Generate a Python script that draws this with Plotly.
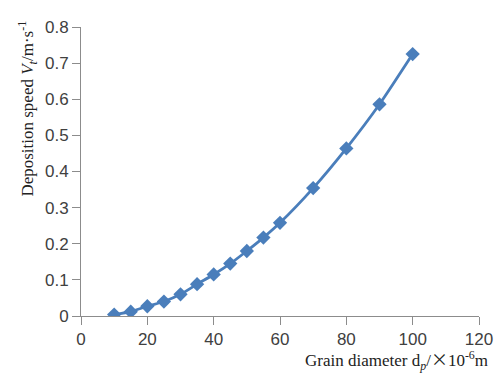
import plotly.graph_objects as go

diameter = [10, 15, 20, 25, 30, 35, 40, 45, 50, 55, 60, 70, 80, 90, 100]
speed = [0.004, 0.012, 0.027, 0.040, 0.060, 0.088, 0.115, 0.145, 0.180, 0.217, 0.258, 0.354, 0.464, 0.586, 0.725]

x_ticks = [0, 20, 40, 60, 80, 100, 120]
y_ticks = [0, 0.1, 0.2, 0.3, 0.4, 0.5, 0.6, 0.7, 0.8]
y_labels = ["0", "0.1", "0.2", "0.3", "0.4", "0.5", "0.6", "0.7", "0.8"]

fig = go.Figure()
fig.add_trace(go.Scatter(
    x=diameter, y=speed, mode="lines+markers",
    line=dict(color="#4A7EBB", width=2.8, shape="spline", smoothing=0.6),
    marker=dict(symbol="diamond", size=11, color="#4A7EBB"),
    showlegend=False,
))

axis_common = dict(
    showgrid=False, zeroline=False, showline=True, linecolor="#8C8C8C", linewidth=1,
    ticks="outside", ticklen=8, tickcolor="#8C8C8C",
    tickfont=dict(family="Liberation Sans", size=17, color="#404040"),
)
fig.update_xaxes(range=[0, 120], tickvals=x_ticks, **axis_common)
fig.update_yaxes(range=[0, 0.8], tickvals=y_ticks, ticktext=y_labels, **axis_common)

fig.add_annotation(
    xref="paper", yref="paper", x=1.027, y=-0.151, xanchor="right", yanchor="middle",
    text="Grain diameter d<sub><i>p</i></sub>/<span style=\"font-family:'Noto Sans CJK SC'\">×</span>10<sup>-6</sup>m",
    showarrow=False,
    font=dict(family="Liberation Serif", size=17, color="#222222"),
)
fig.add_annotation(
    xref="paper", yref="paper", x=-0.135, y=1.030, xanchor="center", yanchor="top",
    textangle=-90,
    text="Deposition speed <i>V<sub>t</sub></i>/m·s<sup>-1</sup>", showarrow=False,
    font=dict(family="Liberation Serif", size=17, color="#222222"),
)

fig.update_layout(
    width=495, height=365,
    margin=dict(l=73, r=19, t=10, b=57),
    paper_bgcolor="white", plot_bgcolor="white",
)
fig.write_html("out.html")
